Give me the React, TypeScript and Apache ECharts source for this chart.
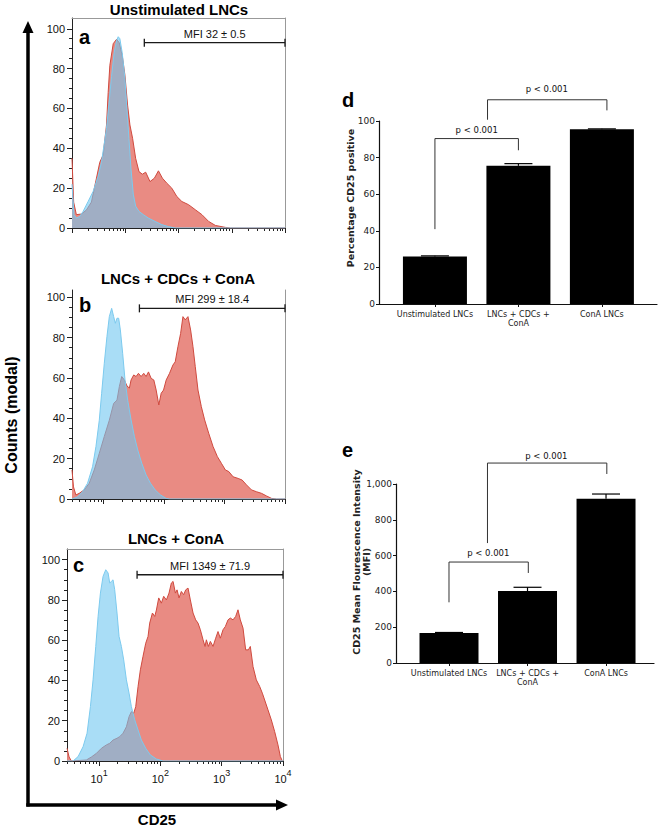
import React, { useEffect, useRef } from 'react';
import * as echarts from 'echarts';

// ---------------- Histogram panels a, b, c (x = log10 CD25 intensity, y = counts modal) ----------------
const histTitles = ['Unstimulated LNCs', 'LNCs + CDCs + ConA', 'LNCs + ConA'];
const histLetters = ['a', 'b', 'c'];
const mfiLabels = ['MFI 32 ± 0.5', 'MFI 299 ± 18.4', 'MFI 1349 ± 71.9'];
const mfiGateStart = [1.358, 1.592, 1.62];
const mfiGateEnd = [4, 4, 4];
const mfiGateCount = [93, 94.5, 92.5];
const histXMin = [0, 0.477, 0.477];
const histXMax = [4, 4, 4];
const histYMax = [105.4, 103.6, 105.3];
const histYTicks = [0, 20, 40, 60, 80, 100];
const decadeLabels = [1, 2, 3, 4];

const aRedX = [0, 0.031, 0.082, 0.176, 0.27, 0.365, 0.459, 0.522, 0.585, 0.648, 0.679, 0.711, 0.774, 0.836, 0.887, 0.943, 0.994, 1.044, 1.088, 1.138, 1.195, 1.258, 1.321, 1.384, 1.465, 1.547, 1.623, 1.698, 1.78, 1.874, 1.969, 2.063, 2.189, 2.314, 2.44, 2.566, 2.692, 2.881, 2.975, 4.0];
const aRedY = [35, 13, 6.7, 7, 9, 13, 25, 33, 36.7, 51.7, 68, 81.7, 92.5, 94.7, 93, 86.7, 76.7, 61.7, 51.7, 45, 35, 28.3, 27, 28, 23.3, 25, 28.7, 25, 22.5, 20, 15.8, 13.3, 11.7, 9.2, 6.7, 3.3, 1.3, 0.3, 0, 0];
const aBlueX = [0, 0.038, 0.082, 0.145, 0.208, 0.302, 0.396, 0.491, 0.553, 0.604, 0.648, 0.692, 0.742, 0.792, 0.836, 0.868, 0.899, 0.943, 0.994, 1.031, 1.069, 1.107, 1.151, 1.195, 1.258, 1.34, 1.434, 1.56, 1.686, 1.811, 1.937, 4.0];
const aBlueY = [22, 6.7, 5, 5.8, 8.3, 13.3, 18.3, 26, 33, 42, 50, 62, 76, 88, 94, 96, 95, 88, 75, 60, 45, 30, 17, 11, 8.3, 6.7, 5, 3.3, 1.7, 0.7, 0, 0];

const bRedX = [0.477, 0.502, 0.541, 0.596, 0.679, 0.762, 0.845, 0.928, 1.011, 1.094, 1.166, 1.221, 1.26, 1.299, 1.343, 1.387, 1.426, 1.454, 1.498, 1.537, 1.576, 1.62, 1.664, 1.703, 1.742, 1.786, 1.83, 1.869, 1.913, 1.952, 1.991, 2.035, 2.09, 2.146, 2.184, 2.229, 2.273, 2.312, 2.35, 2.395, 2.439, 2.478, 2.516, 2.561, 2.616, 2.671, 2.738, 2.81, 2.882, 2.948, 3.014, 3.07, 3.142, 3.225, 3.291, 3.363, 3.446, 3.529, 3.612, 3.695, 3.778, 3.861, 4.0];
const bRedY = [14.4, 6, 2, 2.8, 4.5, 7.8, 14.4, 22.6, 31, 39, 47.4, 49, 55.7, 60.7, 59, 56, 55, 59, 61.5, 60.7, 62.3, 60.7, 62.3, 60.7, 63, 59.8, 59, 54, 46.6, 52.4, 54, 59, 62.3, 66.4, 68, 75.5, 82, 90.4, 88.8, 90.4, 83.8, 75.5, 65.6, 54, 45.8, 39.2, 32.6, 26, 21, 17.7, 14.4, 13.6, 11, 10.2, 9.4, 7, 4.5, 3.6, 2.8, 1.5, 0.3, 0, 0];
const bBlueX = [0.477, 0.568, 0.651, 0.734, 0.817, 0.873, 0.928, 0.967, 1.011, 1.055, 1.094, 1.133, 1.166, 1.194, 1.221, 1.249, 1.277, 1.315, 1.354, 1.398, 1.454, 1.509, 1.564, 1.631, 1.703, 1.775, 1.852, 1.941, 2.035, 2.09, 4.0];
const bBlueY = [0, 1, 3.6, 7.8, 16, 26, 39, 52.4, 67.3, 80.5, 90.4, 94.5, 90.4, 87.1, 89.6, 89.6, 83.8, 72.2, 59, 49, 39.2, 31, 24.3, 17.7, 11.9, 7.8, 4.5, 2, 0.3, 0, 0];

const cRedX = [0.478, 0.511, 0.549, 0.793, 0.875, 0.957, 1.038, 1.12, 1.174, 1.228, 1.293, 1.337, 1.391, 1.446, 1.489, 1.527, 1.565, 1.598, 1.636, 1.674, 1.717, 1.761, 1.799, 1.826, 1.87, 1.908, 1.935, 1.973, 2.016, 2.054, 2.098, 2.141, 2.179, 2.207, 2.245, 2.272, 2.304, 2.342, 2.38, 2.413, 2.451, 2.489, 2.533, 2.576, 2.614, 2.652, 2.696, 2.728, 2.75, 2.783, 2.815, 2.859, 2.902, 2.94, 2.978, 3.022, 3.06, 3.103, 3.141, 3.185, 3.228, 3.266, 3.304, 3.348, 3.391, 3.435, 3.467, 3.511, 3.565, 3.62, 3.663, 3.701, 3.755, 3.81, 3.864, 3.918, 3.957, 3.989, 4.0];
const cRedY = [6.3, 2, 0, 0.5, 2, 3.8, 6.3, 8, 8.8, 10.4, 11.3, 12.1, 13.8, 17, 22, 24.5, 23.7, 27, 37, 45.3, 52, 58.5, 61.9, 68.5, 73.5, 71.8, 75, 81, 78.4, 81.8, 80, 83.4, 88.4, 89.2, 83.4, 85, 81, 84.2, 82.6, 85, 85.9, 80, 73.5, 70.1, 68.5, 65.2, 60.2, 56.9, 60.2, 56.9, 59.4, 56.9, 61, 64.3, 61, 65.2, 66.8, 70.1, 71, 70.1, 71.8, 75.1, 70.1, 66, 55.2, 55.2, 56.9, 46.9, 40.3, 37, 33.7, 30.3, 25.4, 20.4, 14.6, 8, 2.2, 0, 0];
const cBlueX = [0.478, 0.576, 0.658, 0.739, 0.804, 0.859, 0.902, 0.946, 0.984, 1.022, 1.065, 1.109, 1.147, 1.174, 1.201, 1.228, 1.255, 1.293, 1.326, 1.364, 1.402, 1.446, 1.489, 1.527, 1.582, 1.636, 1.69, 1.761, 1.837, 1.935, 2.043, 4.0];
const cBlueY = [0, 0, 2.2, 7.1, 13.8, 27, 40.3, 56.9, 71.8, 83.4, 91.7, 95, 93.4, 88.4, 89.2, 90, 85.1, 73.5, 61.9, 56.9, 50.2, 40.3, 33.7, 27, 20.4, 15.4, 10.4, 6.3, 3, 1, 0, 0];

const histRedX = [aRedX, bRedX, cRedX];
const histRedY = [aRedY, bRedY, cRedY];
const histBlueX = [aBlueX, bBlueX, cBlueX];
const histBlueY = [aBlueY, bBlueY, cBlueY];

// ---------------- Bar panels d, e ----------------
const barCategories = ['Unstimulated LNCs', 'LNCs + CDCs +\nConA', 'ConA LNCs'];
const dValues = [26, 75.5, 95.5];
const dErrors = [0.3, 1.2, 0.2];
const eValues = [167, 402, 918];
const eErrors = [3.5, 21, 26];
const dYTicksMax = 100;
const eYTicksMax = 1000;
const dBracketX = [[0, 1], [0.63, 2.06]];
const dBracketY = [[40.9, 90.4, 84], [100.7, 111.6, 105.8]];
const dPX = [0.5, 1.34];
const dPY = [95, 117.6];
const eBracketX = [[0, 1.01], [0.49, 2.01]];
const eBracketY = [[339, 564, 503], [670, 1117, 1056]];
const ePX = [0.5, 1.24];
const ePY = [614, 1158];
const pLabel = 'p < 0.001';
const dAxisName = 'Percentage CD25 positive';
const eAxisName = 'CD25 Mean Flourescence Intensity\n(MFI)';

// ---------------- layout / style ----------------
const HFONT = '"Liberation Sans", Arial, Helvetica, sans-serif';
const BFONT = '"DejaVu Sans", Verdana, sans-serif';
const histGrids = [
  { left: 72, top: 18, width: 213, height: 210 },
  { left: 72, top: 290, width: 213, height: 209 },
  { left: 67, top: 549, width: 216, height: 212 },
];
const histHasTop = [true, false, true];
const barGrids = [
  { left: 379, top: 121, width: 278, height: 183 },
  { left: 396, top: 484, width: 258, height: 179 },
];
const barXMin = [-0.67, -0.675];
const barXMax = [2.66, 2.611];
const barWidths = [64, 59];

function zip(xs: number[], ys: number[]) {
  return xs.map((x, i) => [x, ys[i]]);
}

function buildOption() {
  const grid: any[] = [];
  const xAxis: any[] = [];
  const yAxis: any[] = [];
  const series: any[] = [];

  const yMinor: number[] = [];
  for (let v = 5; v < 100; v += 5) if (v % 20 !== 0) yMinor.push(v);

  histGrids.forEach((g, i) => {
    grid.push({ ...g });
    const xmin = histXMin[i];
    const xmax = histXMax[i];
    const majors: number[] = [];
    for (let n = 0; n <= 4; n++) if (n >= xmin - 1e-6 && n <= xmax + 1e-6) majors.push(n);
    const minors: number[] = [];
    for (let n = 0; n < 4; n++) for (let k = 2; k <= 9; k++) {
      const v = n + Math.log10(k);
      if (v > xmin && v < xmax) minors.push(v);
    }
    const xMainIdx = xAxis.length;
    xAxis.push({
      gridIndex: i, type: 'value', min: xmin, max: xmax, position: 'bottom',
      axisLine: { show: true, onZero: false, lineStyle: { color: '#222', width: 1 } },
      axisTick: { show: true, customValues: majors, length: 5, lineStyle: { color: '#222', width: 1 } },
      axisLabel: i === 2
        ? {
          show: true, customValues: decadeLabels, margin: 7, color: '#111',
          formatter: (v: number) => `{b|10}{s|${Math.round(v)}}`,
          rich: {
            b: { fontSize: 11, fontFamily: HFONT, color: '#111', lineHeight: 16, verticalAlign: 'bottom' },
            s: { fontSize: 9, fontFamily: HFONT, color: '#111', lineHeight: 8, verticalAlign: 'top' },
          },
        }
        : { show: false },
      splitLine: { show: false },
    });
    xAxis.push({
      gridIndex: i, type: 'value', min: xmin, max: xmax, position: 'bottom',
      axisLine: { show: false, onZero: false },
      axisTick: { show: true, customValues: minors, length: 3, lineStyle: { color: '#222', width: 1 } },
      axisLabel: { show: false }, splitLine: { show: false },
    });
    if (histHasTop[i]) {
      xAxis.push({
        gridIndex: i, type: 'value', min: xmin, max: xmax, position: 'top',
        axisLine: { show: true, onZero: false, lineStyle: { color: '#999', width: 1 } },
        axisTick: { show: false }, axisLabel: { show: false }, splitLine: { show: false },
      });
    }
    const yMainIdx = yAxis.length;
    yAxis.push({
      gridIndex: i, type: 'value', min: 0, max: histYMax[i], position: 'left',
      axisLine: { show: true, onZero: false, lineStyle: { color: '#222', width: 1 } },
      axisTick: { show: true, customValues: histYTicks, length: 5, lineStyle: { color: '#222', width: 1 } },
      axisLabel: { show: true, customValues: histYTicks, fontSize: 11, fontFamily: HFONT, color: '#111', margin: 7 },
      splitLine: { show: false },
    });
    yAxis.push({
      gridIndex: i, type: 'value', min: 0, max: histYMax[i], position: 'left',
      axisLine: { show: false, onZero: false },
      axisTick: { show: true, customValues: yMinor, length: 3, lineStyle: { color: '#222', width: 1 } },
      axisLabel: { show: false }, splitLine: { show: false },
    });
    yAxis.push({
      gridIndex: i, type: 'value', min: 0, max: histYMax[i], position: 'right',
      axisLine: { show: true, onZero: false, lineStyle: { color: '#999', width: 1 } },
      axisTick: { show: false }, axisLabel: { show: false }, splitLine: { show: false },
    });

    series.push({
      type: 'line', xAxisIndex: xMainIdx, yAxisIndex: yMainIdx, silent: true,
      data: zip(histRedX[i], histRedY[i]), symbol: 'none', smooth: false,
      lineStyle: { color: '#cf4a3f', width: 1 },
      areaStyle: { color: '#e98b83', opacity: 1 },
      z: 2,
    });
    series.push({
      type: 'line', xAxisIndex: xMainIdx, yAxisIndex: yMainIdx, silent: true,
      data: zip(histBlueX[i], histBlueY[i]), symbol: 'none', smooth: false,
      lineStyle: { color: '#7ccaee', width: 1 },
      areaStyle: { color: 'rgba(112,198,240,0.6)', opacity: 1 },
      z: 3,
    });
    const label = mfiLabels[i];
    series.push({
      type: 'custom', xAxisIndex: xMainIdx, yAxisIndex: yMainIdx, silent: true, clip: false, z: 5,
      data: [[mfiGateStart[i], mfiGateEnd[i], mfiGateCount[i]]],
      encode: { x: [0, 1], y: 2 },
      renderItem: (_p: any, api: any) => {
        const p0 = api.coord([api.value(0), api.value(2)]);
        const p1 = api.coord([api.value(1), api.value(2)]);
        const st = { stroke: '#1a1a1a', lineWidth: 1.3 };
        return {
          type: 'group',
          children: [
            { type: 'line', shape: { x1: p0[0], y1: p0[1], x2: p1[0], y2: p1[1] }, style: st },
            { type: 'line', shape: { x1: p0[0], y1: p0[1] - 4, x2: p0[0], y2: p0[1] + 4 }, style: st },
            { type: 'line', shape: { x1: p1[0], y1: p1[1] - 4, x2: p1[0], y2: p1[1] + 4 }, style: st },
            {
              type: 'text', x: (p0[0] + p1[0]) / 2, y: p0[1] - 9,
              style: {
                text: label, fill: '#111', fontSize: 11, fontFamily: HFONT,
                align: 'center', verticalAlign: 'middle', textAlign: 'center', textVerticalAlign: 'middle',
              },
            },
          ],
        };
      },
    });
  });

  // ---------- bar panels ----------
  const barSets = [
    { values: dValues, errors: dErrors, max: dYTicksMax, interval: 20, bx: dBracketX, by: dBracketY, px: dPX, py: dPY,
      fmt: (v: number) => String(v) },
    { values: eValues, errors: eErrors, max: eYTicksMax, interval: 200, bx: eBracketX, by: eBracketY, px: ePX, py: ePY,
      fmt: (v: number) => v.toLocaleString('en-US') },
  ];
  barSets.forEach((s, j) => {
    const gi = grid.length;
    grid.push({ ...barGrids[j] });
    const xi = xAxis.length;
    xAxis.push({
      gridIndex: gi, type: 'value', min: barXMin[j], max: barXMax[j], position: 'bottom',
      axisLine: { show: true, onZero: false, lineStyle: { color: '#111', width: 1.2 } },
      axisTick: { show: true, customValues: [0, 1, 2], length: 3, lineStyle: { color: '#111' } },
      axisLabel: {
        show: true, customValues: [0, 1, 2], margin: 6,
        formatter: (v: number) => barCategories[Math.round(v)],
        fontSize: 8, fontFamily: BFONT, color: '#222', lineHeight: 9,
      },
      splitLine: { show: false },
    });
    const yi = yAxis.length;
    yAxis.push({
      gridIndex: gi, type: 'value', min: 0, max: s.max, interval: s.interval, position: 'left',
      axisLine: { show: true, onZero: false, lineStyle: { color: '#111', width: 1.2 } },
      axisTick: { show: true, length: 3, lineStyle: { color: '#111' } },
      axisLabel: { fontSize: 9, fontFamily: BFONT, color: '#222', margin: 4, formatter: s.fmt },
      splitLine: { show: false },
    });
    series.push({
      type: 'bar', xAxisIndex: xi, yAxisIndex: yi, silent: true, barWidth: barWidths[j],
      data: s.values.map((v, k) => [k, v]),
      itemStyle: { color: '#000' },
      z: 2,
    });
    series.push({
      type: 'custom', xAxisIndex: xi, yAxisIndex: yi, silent: true, clip: false, z: 3,
      data: s.values.map((v, k) => [k, v, s.errors[k]]),
      encode: { x: 0, y: 1 },
      renderItem: (_p: any, api: any) => {
        const x = api.value(0); const v = api.value(1); const e = api.value(2);
        const b = api.coord([x, v]); const t = api.coord([x, v + e]);
        const st = { stroke: '#000', lineWidth: 1.2 };
        return {
          type: 'group', children: [
            { type: 'line', shape: { x1: b[0], y1: b[1], x2: t[0], y2: t[1] }, style: st },
            { type: 'line', shape: { x1: t[0] - 14, y1: t[1], x2: t[0] + 14, y2: t[1] }, style: st },
          ],
        };
      },
    });
    s.bx.forEach((bx, k) => {
      const by = s.by[k];
      series.push({
        type: 'line', xAxisIndex: xi, yAxisIndex: yi, silent: true, clip: false, symbol: 'none', z: 4,
        data: [[bx[0], by[0]], [bx[0], by[1]], [bx[1], by[1]], [bx[1], by[2]]],
        lineStyle: { color: '#333', width: 1 },
      });
    });
    series.push({
      type: 'custom', xAxisIndex: xi, yAxisIndex: yi, silent: true, clip: false, z: 5,
      data: s.px.map((x, k) => [x, s.py[k]]),
      encode: { x: 0, y: 1 },
      renderItem: (_p: any, api: any) => {
        const p = api.coord([api.value(0), api.value(1)]);
        return {
          type: 'text', x: p[0], y: p[1],
          style: {
            text: pLabel, fill: '#111', fontSize: 8.5, fontFamily: BFONT,
            align: 'center', verticalAlign: 'middle', textAlign: 'center', textVerticalAlign: 'middle',
          },
        };
      },
    });
  });

  const txt = (text: string, x: number, y: number, size: number, opts: any = {}) => ({
    type: 'text', x, y, silent: true, rotation: opts.rotation || 0,
    style: {
      text, fill: opts.fill || '#000', fontSize: size, fontWeight: opts.weight || 'bold', fontFamily: opts.font || HFONT,
      align: opts.align || 'center', verticalAlign: 'middle',
      textAlign: opts.align || 'center', textVerticalAlign: 'middle',
      lineHeight: opts.lineHeight,
    },
  });

  const graphic: any[] = [
    txt(histTitles[0], 179, 9, 15),
    txt(histTitles[1], 178, 278, 15),
    txt(histTitles[2], 176, 538, 15),
    txt(histLetters[0], 79, 37, 20, { align: 'left' }),
    txt(histLetters[1], 79, 305, 20, { align: 'left' }),
    txt(histLetters[2], 73, 565, 20, { align: 'left' }),
    txt('d', 342, 100, 20, { align: 'left' }),
    txt('e', 342, 450, 20, { align: 'left' }),
    txt('Counts (modal)', 11, 415, 16, { rotation: Math.PI / 2 }),
    txt('CD25', 157, 819, 15),
    txt(dAxisName, 350, 198, 9.5, { rotation: Math.PI / 2, font: BFONT, fill: '#222' }),
    txt(eAxisName, 361, 562, 9.5, { rotation: Math.PI / 2, font: BFONT, fill: '#222', lineHeight: 10 }),
    { type: 'line', silent: true, shape: { x1: 28, y1: 31, x2: 28, y2: 806.5 }, style: { stroke: '#000', lineWidth: 3.5 } },
    { type: 'polygon', silent: true, shape: { points: [[28, 21], [22.5, 33], [33.5, 33]] }, style: { fill: '#000' } },
    { type: 'line', silent: true, shape: { x1: 26.25, y1: 805, x2: 277, y2: 805 }, style: { stroke: '#000', lineWidth: 3.5 } },
    { type: 'polygon', silent: true, shape: { points: [[288, 805], [276, 799.5], [276, 810.5]] }, style: { fill: '#000' } },
  ];

  return {
    animation: false,
    backgroundColor: '#ffffff',
    textStyle: { color: '#111' },
    grid, xAxis, yAxis, series, graphic,
  };
}

export default function App() {
  const ref = useRef<HTMLDivElement>(null);
  useEffect(() => {
    if (!ref.current) return;
    const chart = echarts.init(ref.current, undefined, { renderer: 'svg' });
    chart.setOption(buildOption() as any);
    return () => chart.dispose();
  }, []);
  return (
    <div
      ref={ref}
      style={{ position: 'absolute', left: 0, top: 0, width: 660, height: 828, background: '#fff' }}
    />
  );
}
